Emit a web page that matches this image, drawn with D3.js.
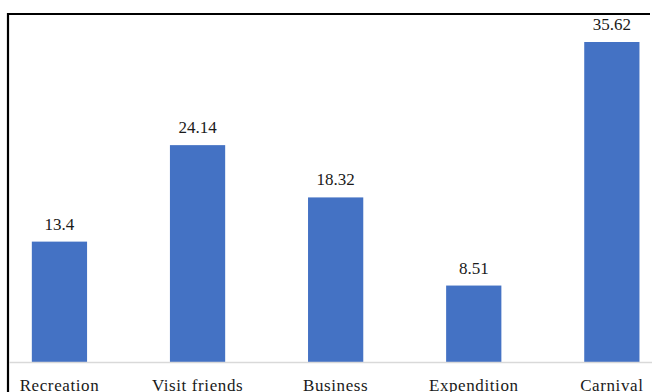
<!DOCTYPE html>
<html><head><meta charset="utf-8">
<script src="https://cdn.jsdelivr.net/npm/d3@7"></script>
<style>html,body{margin:0;padding:0;background:#fff;}svg{display:block;}</style>
</head><body>
<svg id="c" width="652" height="392"></svg>
<script>
const categories = ["Recreation", "Visit friends", "Business", "Expendition", "Carnival"];
const values = [13.4, 24.14, 18.32, 8.51, 35.62];
const valueLabels = ["13.4", "24.14", "18.32", "8.51", "35.62"];

const FONT = "'Liberation Serif', 'Times New Roman', 'DejaVu Serif', serif";
const svg = d3.select("#c");
const baseY = 362;
const x = d3.scaleBand().domain(categories).range([-9.6, 680.9]).paddingInner(0.6).paddingOuter(0.3);
const y = d3.scaleLinear().domain([0, 35.62]).range([baseY, 42]);

// frame
svg.append("line").attr("x1", 7).attr("x2", 650).attr("y1", 14).attr("y2", 14).attr("stroke", "#000").attr("stroke-width", 2.2);
svg.append("line").attr("x1", 8).attr("x2", 8).attr("y1", 13).attr("y2", 392).attr("stroke", "#000").attr("stroke-width", 2.2);

svg.selectAll("rect.bar").data(values).join("rect").attr("class", "bar")
  .attr("x", (d, i) => x(categories[i]))
  .attr("width", x.bandwidth())
  .attr("y", d => y(d))
  .attr("height", d => baseY - y(d))
  .attr("fill", "#4472C4");

// baseline axis
const axis = svg.append("g").attr("transform", `translate(0,${baseY})`)
  .call(d3.axisBottom(x).tickSize(0).tickPadding(0));
axis.attr("font-family", FONT).attr("font-size", 17)
  .style("font-family", FONT).style("font-size", "17px");
axis.select(".domain").attr("stroke", "#D9D9D9").attr("stroke-width", 1.5).attr("d", "M9,0.5H652");
axis.selectAll("text").attr("dy", 0).attr("y", 28.5).attr("fill", "#1a1a1a")
  .style("font-family", FONT).style("font-size", "17px").style("letter-spacing", "0.6px");

svg.selectAll("text.val").data(values).join("text").attr("class", "val")
  .attr("x", (d, i) => x(categories[i]) + x.bandwidth() / 2)
  .attr("y", d => y(d) - 12)
  .attr("text-anchor", "middle")
  .attr("fill", "#1a1a1a")
  .style("font-family", FONT).style("font-size", "17px")
  .text((d, i) => valueLabels[i]);
</script>
</body></html>
